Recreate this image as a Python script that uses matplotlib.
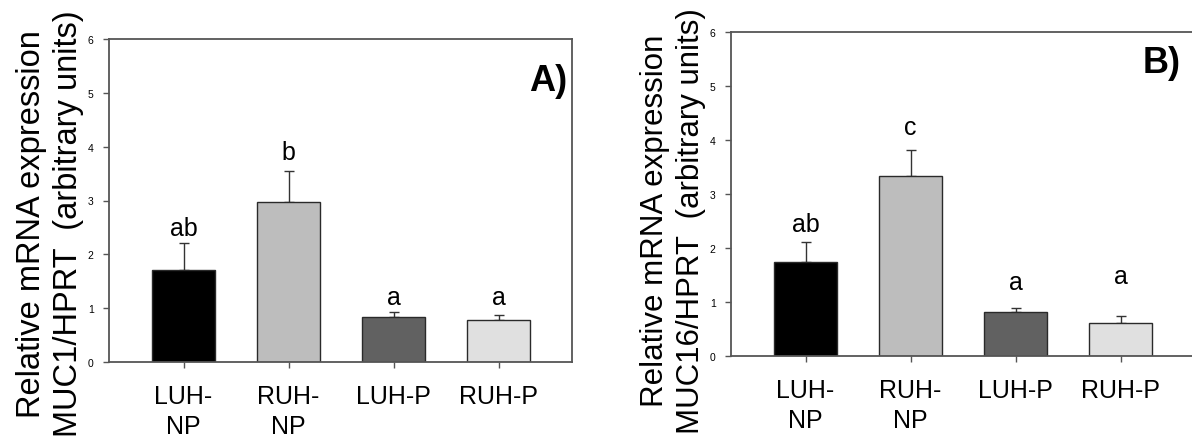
import numpy as np
import matplotlib
matplotlib.use('Agg')
import matplotlib.pyplot as plt

plt.rcParams['font.family'] = ['Liberation Sans', 'DejaVu Sans']

groups = ['LUH-\nNP', 'RUH-\nNP', 'LUH-P', 'RUH-P']
colors = ['#000000', '#bdbdbd', '#616161', '#e0e0e0']

# panel A - MUC1
muc1_mean = [1.70, 2.98, 0.83, 0.78]
muc1_err = [0.51, 0.56, 0.09, 0.10]
muc1_letters = ['ab', 'b', 'a', 'a']
muc1_letter_y = [2.36, 3.77, 1.08, 1.08]

# panel B - MUC16
muc16_mean = [1.74, 3.33, 0.81, 0.61]
muc16_err = [0.37, 0.48, 0.08, 0.13]
muc16_letters = ['ab', 'c', 'a', 'a']
muc16_letter_y = [2.31, 4.11, 1.24, 1.35]

yticks = [0, 1, 2, 3, 4, 5, 6]

fig = plt.figure(figsize=(11.92, 4.39), dpi=100)
axA = fig.add_axes([109/1192, 76/439, 463/1192, 323/439])
axB = fig.add_axes([731/1192, 82/439, 463/1192, 324/439])


def draw(ax, mean, err, letters, letter_y, ylab, labsize, laby, tag, tagpos):
    x = np.arange(len(groups))
    ax.bar(x, mean, width=0.6, color=colors, edgecolor='#2a2a2a', linewidth=1.0,
           zorder=2)
    ax.errorbar(x, mean, yerr=[np.zeros(len(err)), err], fmt='none',
                ecolor='#333333', elinewidth=1.0, capsize=3.6, capthick=1.0,
                zorder=1)
    for xi, l, ly in zip(x, letters, letter_y):
        ax.text(xi, ly, l, ha='center', va='baseline', fontsize=18)
    ax.set_xlim(-0.71, 3.70)
    ax.set_ylim(0, 6)
    ax.set_yticks(yticks)
    ax.set_xticks(x)
    ax.set_xticklabels(groups, fontsize=18, linespacing=1.3)
    ax.tick_params(axis='y', direction='out', length=4, width=1, pad=7,
                   labelsize=7.5, color='#555555')
    ax.tick_params(axis='x', direction='out', length=4, width=1, pad=12,
                   color='#555555')
    for s in ax.spines.values():
        s.set_color('#555555')
        s.set_linewidth(1.3)
    ax.set_ylabel(ylab, fontsize=labsize, linespacing=1.25)
    ax.yaxis.set_label_coords(-0.055, laby)
    ax.text(tagpos[0], tagpos[1], tag, transform=ax.transAxes, fontsize=26,
            fontweight='bold', ha='center', va='center')


draw(axA, muc1_mean, muc1_err, muc1_letters, muc1_letter_y,
     'Relative mRNA expression\nMUC1/HPRT  (arbitrary units)', 23.5, 0.43,
     'A)', (0.948, 0.87))
draw(axB, muc16_mean, muc16_err, muc16_letters, muc16_letter_y,
     'Relative mRNA expression\nMUC16/HPRT  (arbitrary units)', 22.5, 0.42,
     'B)', (0.93, 0.907))

fig.savefig('out.png', dpi=100)
